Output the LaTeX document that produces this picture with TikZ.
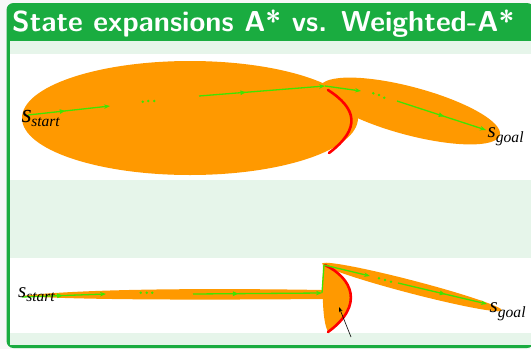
\documentclass[tikz,border=0pt]{standalone}
\usepackage{fontspec}
\newfontfamily\lblfont{Liberation Serif}
\usetikzlibrary{arrows.meta,decorations.markings}
\definecolor{bgcol}{RGB}{247,247,247}
\definecolor{titlegreen}{RGB}{26,172,64}
\definecolor{lightgreen}{RGB}{230,245,234}
\definecolor{orng}{RGB}{255,153,0}
\definecolor{pathgreen}{RGB}{64,228,0}
\definecolor{redc}{RGB}{255,0,0}
\tikzset{
  gline/.style={pathgreen, line width=1.3pt, -{Stealth[length=6pt,width=4.5pt]}},
  midmark/.style={postaction={decorate}, decoration={markings, mark=at position #1 with {\fill[pathgreen] (2.6,0) -- (-2.6,2.4) -- (-2.6,-2.4) -- cycle;}}},
  gdot/.style={fill=pathgreen},
  redline/.style={redc, line width=2.6pt, line cap=round},
  lbl/.style={inner sep=0pt, anchor=base west},
  orfill/.style={fill=orng}
}
\begin{document}
\begin{tikzpicture}[x=1pt,y=-1pt]
\clip (0,0) rectangle (531,349);
\fill[bgcol] (0,0) rectangle (531,349);
% frame
\fill[titlegreen, rounded corners=7pt] (6.5,3) rectangle (534,348);
\fill[lightgreen] (10,41) rectangle (531,345);
\fill[white] (10,54) rectangle (531,180);
\fill[white] (10,258) rectangle (531,333);
\node[lbl, text=white, font=\sffamily\bfseries\fontsize{28.8}{31}\selectfont] (title) at (12,31) {State expansions A* vs. Weighted-A*};

% ---------- top panel ----------
\fill[orng] (190,118) ellipse (168 and 57);
\fill[orng, rotate around={-15:(410,111)}] (410,111) ellipse (93 and 24);
\draw[redline] (328,90) .. controls (356,108) and (362,128) .. (329,153);

\coordinate (t0) at (28,115);
\coordinate (t1) at (110,106);
\coordinate (t2) at (199,96);
\coordinate (tj) at (325,86);
\coordinate (t3) at (361,91);
\coordinate (t4) at (397,101);
\coordinate (tg) at (486,130);
\draw[gline, midmark=0.42] (t0) -- (t1);
\draw[gline, midmark=0.35] (t2) -- (tj);
\draw[gline] (tj) -- (t3);
\draw[gline, midmark=0.5] (t4) -- (tg);
\fill[gdot] (142.7,101.7) circle (1.4) (148.3,101) circle (1.4) (154.3,101) circle (1.4);
\fill[gdot] (373.3,93.3) circle (1.4) (379,95) circle (1.4) (384.3,97.7) circle (1.4);

\node[lbl] (ts) at (21.5,122) {\lblfont\itshape\fontsize{26}{26}\selectfont s\kern-0.5pt\raisebox{-4.7pt}{\fontsize{15.5}{15.5}\selectfont start}};
\node[lbl] (tgl) at (487.5,137) {\lblfont\itshape\fontsize{21}{21}\selectfont s\kern0pt\raisebox{-5.5pt}{\fontsize{15.6}{15.6}\selectfont goal}};

% ---------- bottom panel ----------
\fill[orng] (21,296) .. controls (80,289) and (200,288) .. (324,290) -- (324,299) .. controls (200,300) and (80,300) .. (21,296) -- cycle;
\fill[orng, rotate around={-14.6:(412,287)}] (412,287) ellipse (93 and 6.5);
\fill[orng] (324,264) .. controls (352,278) and (365,305) .. (328,332) .. controls (323,322) and (322,300) .. (323,264) -- cycle;
\draw[redline] (325,265) .. controls (352,278) and (365,305) .. (328,332);

\coordinate (b0) at (22,297);
\coordinate (b1) at (106,294);
\coordinate (b2) at (193,294);
\coordinate (bj1) at (322,293);
\coordinate (bj2) at (324,265);
\coordinate (b3) at (370,276);
\coordinate (b4) at (398,283);
\coordinate (bg) at (487,304);
\draw[gline, midmark=0.45] (b0) -- (b1);
\draw[gline, midmark=0.33] (b2) -- (bj1);
\draw[pathgreen, line width=1.3pt] (bj1) -- (bj2);
\draw[gline] (bj2) -- (b3);
\draw[gline, midmark=0.5] (b4) -- (bg);
\fill[gdot] (140.7,292.7) circle (1.4) (146.7,292.7) circle (1.4) (152.3,292.7) circle (1.4);
\fill[gdot] (379,278.3) circle (1.4) (385,280) circle (1.4) (391,281.7) circle (1.4);

\node[lbl] (bs) at (18,297) {\lblfont\itshape\fontsize{21}{21}\selectfont s\kern0pt\raisebox{-4.7pt}{\fontsize{15.5}{15.5}\selectfont start}};
\node[lbl] (bgl) at (489.5,312) {\lblfont\itshape\fontsize{21}{21}\selectfont s\kern0pt\raisebox{-5.5pt}{\fontsize{15.6}{15.6}\selectfont goal}};

\coordinate (ab) at (351,337);
\coordinate (at) at (339,307);
\draw[black, line width=0.6pt, -{Stealth[length=5pt,width=3.5pt]}] (ab) -- (at);
\end{tikzpicture}
\end{document}
